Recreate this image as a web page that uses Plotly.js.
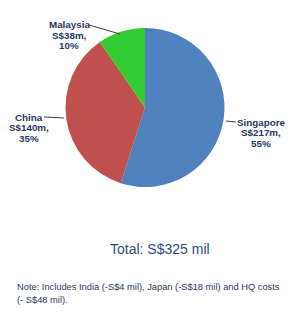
<!DOCTYPE html>
<html><head><meta charset="utf-8">
<script src="https://cdn.plot.ly/plotly-3.0.1.min.js"></script>
<style>html,body{margin:0;padding:0;background:#fff;}#chart{width:300px;height:318px;}</style>
</head><body><div id="chart"></div>
<script>
const regions = ["Singapore", "China", "Malaysia"];
const profits = [217, 140, 38];
const shares = [55, 35, 10];
const colors = ["#4F81BD", "#C0504D", "#33CC33"];
const totalText = "Total: S$325 mil";
const noteLines = ["Note: Includes India (-S$4 mil), Japan (-S$18 mil) and HQ costs", "(- S$48 mil)."];

const W = 300, H = 318;
const px = x => x / W, py = y => 1 - y / H;
const labelColor = "#1F3864";
const FONT = "Liberation Sans, Arial, sans-serif";

const trace = {
  type: "pie", values: profits, labels: regions, sort: false,
  direction: "clockwise", rotation: 0,
  marker: {colors: colors, line: {color: "#ffffff", width: 0}},
  textinfo: "none", hoverinfo: "none", showlegend: false,
  domain: {x: [px(65), px(225)], y: [py(187), py(28)]}
};

// first-line centre positions of each label block
const labelPos = [
  {x: 261, y: 122},
  {x: 29, y: 117},
  {x: 69, y: 25}
];
const annotations = [];
regions.forEach((r, i) => {
  const lines = [r, "S$" + profits[i] + "m,", shares[i] + "%"];
  lines.forEach((t, k) => {
    annotations.push({
      xref: "paper", yref: "paper", x: px(labelPos[i].x), y: py(labelPos[i].y + k * 10.5),
      xanchor: "center", yanchor: "middle", showarrow: false,
      text: "<b>" + t + "</b>",
      font: {family: FONT, size: 9.8, color: labelColor}
    });
  });
});
annotations.push({
  xref: "paper", yref: "paper", x: px(160), y: py(249), xanchor: "center", yanchor: "middle",
  showarrow: false, text: totalText,
  font: {family: FONT, size: 14, color: "#2E4D7B"}
});
noteLines.forEach((t, k) => {
  annotations.push({
    xref: "paper", yref: "paper", x: px(15), y: py(287 + k * 13), xanchor: "left", yanchor: "middle",
    showarrow: false, align: "left", text: t,
    font: {family: FONT, size: 9.3, color: "#1F3864"}
  });
});

const lineStyle = {color: "#404040", width: 1};
const shapes = [
  {type: "line", xref: "paper", yref: "paper", x0: px(226), y0: py(121), x1: px(236), y1: py(122), line: lineStyle},
  {type: "line", xref: "paper", yref: "paper", x0: px(44), y0: py(117), x1: px(64), y1: py(118), line: lineStyle},
  {type: "line", xref: "paper", yref: "paper", x0: px(89), y0: py(25), x1: px(120), y1: py(34), line: lineStyle}
];

Plotly.newPlot("chart", [trace], {
  width: W, height: H, margin: {l: 0, r: 0, t: 0, b: 0},
  paper_bgcolor: "#ffffff", plot_bgcolor: "#ffffff",
  annotations: annotations, shapes: shapes
}, {staticPlot: true, displayModeBar: false});
</script></body></html>
